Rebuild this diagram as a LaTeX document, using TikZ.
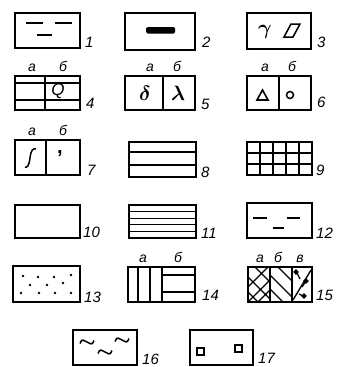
\documentclass[tikz,border=0pt]{standalone}
\usepackage{amsmath}
\usepackage{fontspec}
\setmainfont{Liberation Sans}
\begin{document}
\begin{tikzpicture}[x=1pt,y=-1pt,
  box/.style={line width=1.8pt, line join=miter},
  ln/.style={line width=1.3pt},
  num/.style={font=\fontsize{15}{15}\selectfont\itshape, anchor=base west, inner sep=0pt},
  sub/.style={font=\fontsize{14}{14}\selectfont\itshape, anchor=base, inner sep=0pt},
  sym/.style={font=\fontsize{20}{20}\selectfont, inner sep=0pt}]
\useasboundingbox (0,0) rectangle (337,367);
\fill[white] (0,0) rectangle (337,367);
% 1
\draw[box] (15,13) rectangle (80,48);
\draw[ln] (26,23) -- (43,23) (55,23) -- (72,23) (37,35) -- (52,35);
\node[num] (n1) at (85,47) {1};
% 2
\draw[box] (125,13) rectangle (195,50);
\fill[rounded corners=1.5pt] (146,27) rectangle (175,33.5);
\node[num] (n2) at (202,47) {2};
% 3
\draw[box] (247,13) rectangle (311,49);
\node[sym] (g3) at (265,32) {$\boldsymbol{\gamma}$};
\draw[line width=1.5pt] (284,37) -- (291,24) -- (300,24) -- (293,37) -- cycle;
\node[num] (n3) at (317,47) {3};
% 4
\draw[box] (15,76) rectangle (80,110);
\draw[ln] (15,83) -- (80,83) (15,100) -- (80,100) (45,76) -- (45,110);
\node[sym, font=\fontsize{17}{17}\selectfont] (q4) at (58,91) {\itshape Q};
\node[sub] (a4) at (32,71) {а};
\node[sub] (b4) at (63,71) {б};
\node[num] (n4) at (86,108) {4};
% 5
\draw[box] (125,76) rectangle (195,110);
\draw[ln] (163,76) -- (163,110);
\node[sym] (d5) at (145,93) {$\boldsymbol{\delta}$};
\node[sym] (l5) at (178,93) {$\boldsymbol{\lambda}$};
\node[sub] (a5) at (150,71) {а};
\node[sub] (b5) at (177,71) {б};
\node[num] (n5) at (201,109) {5};
% 6
\draw[box] (247,76) rectangle (311,110);
\draw[ln] (279,76) -- (279,110);
\draw[line width=1.6pt] (257,100) -- (262.5,90) -- (268,100) -- cycle;
\draw[line width=1.5pt] (290,95) circle (3.5);
\node[sub] (a6) at (265,71) {а};
\node[sub] (b6) at (292,71) {б};
\node[num] (n6) at (317,107) {6};
% 7
\draw[box] (15,140) rectangle (80,175);
\draw[ln] (46,140) -- (46,175);
\draw[line width=1.5pt] (25,167) .. controls (27,168) and (29,166) .. (30,158) .. controls (31,150) and (33,148) .. (36,149);
\node[sym] (c7) at (60,154) {\bfseries ,};
\node[sub] (a7) at (32,135) {а};
\node[sub] (b7) at (63,135) {б};
\node[num] (n7) at (87,175) {7};
% 8
\draw[box] (129,142) rectangle (196,177);
\draw[ln] (129,152) -- (196,152) (129,165) -- (196,165);
\node[num] (n8) at (201,177) {8};
% 9
\draw[box] (247,142) rectangle (312,175);
\foreach \i in {1,...,4} \draw[ln] ({247+\i*13},142) -- ({247+\i*13},175);
\draw[ln] (247,153) -- (312,153) (247,164) -- (312,164);
\node[num] (n9) at (316,175) {9};
% 10
\draw[box] (15,205) rectangle (80,238);
\node[num] (n10) at (83,237) {10};
% 11
\draw[box] (129,205) rectangle (196,238);
\foreach \y in {211.6,218.2,224.8,231.4} \draw[ln] (129,\y) -- (196,\y);
\node[num] (n11) at (201,238) {11};
% 12
\draw[box] (247,203) rectangle (312,238);
\draw[ln] (253,218) -- (267,218) (287,218) -- (300,218) (273,228) -- (284,228);
\node[num] (n12) at (316,238) {12};
% 13
\draw[box] (13,266) rectangle (80,302);
\foreach \p in {(23,276),(38,277),(54,277),(71,275),(30,285),(47,285),(63,283),(21,293),(39,293),(55,293),(71,293)}
  \fill \p circle (1.4);
\node[num] (n13) at (84,302) {13};
% 14
\draw[box] (128,267) rectangle (195,302);
\draw[ln] (138,267) -- (138,302) (150,267) -- (150,302) (162,267) -- (162,302);
\draw[ln] (162,275) -- (195,275) (162,292) -- (195,292);
\node[sub] (a14) at (143,262) {а};
\node[sub] (b14) at (178,262) {б};
\node[num] (n14) at (202,300) {14};
% 15
\draw[box] (248,267) rectangle (312,302);
\draw[ln] (270,267) -- (270,302) (292,267) -- (292,302);
\begin{scope}
\clip (248,267) rectangle (270,302);
\draw[ln] (248,277) -- (273,302) (248,292) -- (258,302) (255,267) -- (270,282)
          (248,287) -- (268,267) (248,302) -- (270,280) (258,302) -- (270,290);
\end{scope}
\begin{scope}
\clip (270,267) rectangle (292,302);
\draw[ln] (270,275) -- (297,302) (278,267) -- (292,281) (270,289) -- (283,302);
\end{scope}
\draw[ln] (293,300) -- (311,270);
\draw[ln] (296,271) -- (300,279) (306,281) -- (302,287) (303,296) -- (299,294);
\fill[rotate around={45:(296,272)}] (294,270) rectangle (298,274);
\fill[rotate around={45:(306,281)}] (304,279) rectangle (308,283);
\fill[rotate around={45:(304,296)}] (302,294) rectangle (306,298);
\node[sub] (a15) at (260,262) {а};
\node[sub] (b15) at (278,262) {б};
\node[sub] (c15) at (300,262) {в};
\node[num] (n15) at (316,300) {15};
% 16
\draw[box] (73,330) rectangle (137,365);
\foreach \c in {(87,342),(122,340),(105,352)} {
  \draw[line width=1.5pt] \c ++(-7,1.5) .. controls +(2,-6) and +(-3,-1) .. ++(7,-1.5) .. controls +(3,1) and +(-2,6) .. ++(7,-1.5);
}
\node[num] (n16) at (142,364) {16};
% 17
\draw[box] (190,330) rectangle (253,365);
\draw[line width=1.4pt] (197,348) rectangle (204,355);
\draw[line width=1.4pt] (235,345) rectangle (242,352);
\node[num] (n17) at (258,363) {17};
\end{tikzpicture}
\end{document}
